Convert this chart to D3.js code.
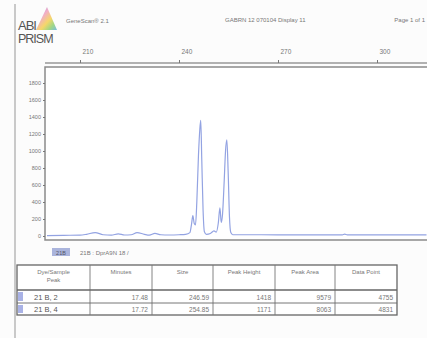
<!DOCTYPE html>
<html>
<head>
<meta charset="utf-8">
<script src="https://cdn.jsdelivr.net/npm/d3@7"></script>
<style>
  html, body { margin: 0; padding: 0; background: #fcfcfc; }
  svg { display: block; font-family: "Liberation Sans", Arial, sans-serif; }
</style>
</head>
<body>
<div id="chart"></div>
<script>
// trace: fragment size (bp) and fluorescence
const traceSize = [200, 205, 210, 212, 214.6, 217, 219.5, 221.6, 223.5, 225.5, 227.3, 229.5, 231, 232.7, 234.5, 237, 240, 242, 243.3,
  243.8, 244.2, 244.6, 245.0, 245.4, 245.9, 246.3, 246.59, 246.9, 247.3, 247.7, 248.3, 249.5, 250.6, 251.3, 251.9,
  252.4, 252.8, 253.2, 253.7, 254.1, 254.5, 254.9, 255.3, 255.7, 256.3, 260, 270, 280, 289.5, 290.2, 291, 300, 315];
const traceValue = [5, 8, 10, 20, 40, 15, 10, 25, 12, 15, 40, 20, 10, 30, 15, 12, 15, 20, 40,
  140, 240, 150, 130, 400, 950, 1250, 1360, 900, 300, 50, 20, 30, 60, 45, 150,
  330, 160, 260, 650, 1000, 1130, 750, 220, 40, 15, 15, 14, 14, 14, 22, 14, 14, 14];

const xTicks = [210, 240, 270, 300];
const yTicks = [0, 200, 400, 600, 800, 1000, 1200, 1400, 1600, 1800];

const tableHeaders = [["Dye/Sample", "Peak"], ["Minutes"], ["Size"], ["Peak Height"], ["Peak Area"], ["Data Point"]];
const peakLabels = ["21 B, 2", "21 B, 4"];
const peakMinutes = ["17.48", "17.72"];
const peakSizes = ["246.59", "254.85"];
const peakHeights = ["1418", "1171"];
const peakAreas = ["9579", "8063"];
const peakDataPoints = ["4755", "4831"];

const W = 427, H = 338;
const svg = d3.select("#chart").append("svg").attr("width", W).attr("height", H);

const gray = "#8a8a8a";
const textGray = "#777";

// page edge line
svg.append("line").attr("x1", 15).attr("x2", 15).attr("y1", 4).attr("y2", H)
  .attr("stroke", "#b8b8b8").attr("stroke-width", 1.5);

// --- header ---
const defs = svg.append("defs");
const grad = defs.append("linearGradient").attr("id", "rainbow")
  .attr("x1", "0").attr("y1", "0").attr("x2", "1").attr("y2", "1");
[["0%", "#7a6fd0"], ["35%", "#f0a0c0"], ["60%", "#f5d050"], ["80%", "#90d070"], ["100%", "#60b0e0"]]
  .forEach(([o, c]) => grad.append("stop").attr("offset", o).attr("stop-color", c));
svg.append("path").attr("d", "M47,7 L57,30 L36,30 Z").attr("fill", "url(#rainbow)").attr("opacity", 0.85);
svg.append("text").attr("x", 18).attr("y", 30).text("ABI")
  .attr("font-size", 13).attr("fill", "#555").attr("letter-spacing", -1);
svg.append("text").attr("x", 18).attr("y", 43).text("PRISM")
  .attr("font-size", 12.5).attr("fill", "#555").attr("letter-spacing", -1);
svg.append("text").attr("x", 66).attr("y", 23).text("GeneScan® 2.1")
  .attr("font-size", 6).attr("fill", textGray);
svg.append("text").attr("x", 225).attr("y", 22).text("GABRN 12 070104 Display 11")
  .attr("font-size", 6).attr("fill", textGray);
svg.append("text").attr("x", 425).attr("y", 22).attr("text-anchor", "end").text("Page 1 of 1")
  .attr("font-size", 6).attr("fill", textGray);

// --- plot ---
const x = d3.scaleLinear().domain([240, 270]).range([179, 278]);
const y = d3.scaleLinear().domain([0, 1800]).range([236, 83]);
const plotL = 45, plotR = 432, plotT = 67, plotB = 240;

svg.append("rect").attr("x", plotL).attr("y", plotT).attr("width", plotR - plotL).attr("height", plotB - plotT)
  .attr("fill", "#fff").attr("stroke", gray).attr("stroke-width", 1.5);

// top size axis
const topAxis = svg.append("g").attr("transform", "translate(0,63)")
  .call(d3.axisTop(x).tickValues(xTicks).tickSize(3).tickSizeOuter(0));
topAxis.select(".domain").attr("d", `M${plotL},0H${plotR}`).attr("stroke", "#999").attr("stroke-width", 1.5);
topAxis.selectAll(".tick line").attr("stroke", "#777");
topAxis.selectAll(".tick text").attr("font-size", 6.5).attr("fill", textGray)
  .attr("text-anchor", "start").attr("dx", 2).attr("dy", -3);

// left axis
const leftAxis = svg.append("g").attr("transform", `translate(${plotL},0)`)
  .call(d3.axisLeft(y).tickValues(yTicks).tickFormat(d3.format("d")).tickSize(2).tickPadding(2));
leftAxis.select(".domain").remove();
leftAxis.selectAll(".tick line").attr("stroke", "#777");
leftAxis.selectAll(".tick text").attr("font-size", 5.5).attr("fill", textGray);

// trace
const clip = defs.append("clipPath").attr("id", "plotclip");
clip.append("rect").attr("x", plotL + 1).attr("y", plotT + 1).attr("width", plotR - plotL - 2).attr("height", plotB - plotT - 2);
const line = d3.line().x(d => x(d[0])).y(d => y(d[1])).curve(d3.curveMonotoneX);
svg.append("path").datum(d3.zip(traceSize, traceValue))
  .attr("clip-path", "url(#plotclip)")
  .attr("d", line).attr("fill", "none").attr("stroke", "#93a3e2").attr("stroke-width", 1.2);

// sample label under plot
svg.append("rect").attr("x", 52).attr("y", 248).attr("width", 18).attr("height", 8).attr("fill", "#aab4dc");
svg.append("text").attr("x", 61).attr("y", 254.5).attr("text-anchor", "middle").text("21B")
  .attr("font-size", 5.5).attr("fill", "#556");
svg.append("text").attr("x", 80).attr("y", 255).text("21B : DprA9N 18 /")
  .attr("font-size", 6).attr("fill", textGray);

// --- peak table ---
const colX = [17, 90, 152, 213, 275, 335, 397];
const rowY = [265, 290, 303, 315];
const rows = d3.zip(peakLabels, peakMinutes, peakSizes, peakHeights, peakAreas, peakDataPoints);
const tbl = svg.append("g");
tbl.append("rect").attr("x", colX[0]).attr("y", rowY[0]).attr("width", colX[6] - colX[0])
  .attr("height", rowY[3] - rowY[0]).attr("fill", "#fff").attr("stroke", "#666").attr("stroke-width", 1.3);
colX.slice(1, -1).forEach(cx => tbl.append("line").attr("x1", cx).attr("x2", cx)
  .attr("y1", rowY[0]).attr("y2", rowY[3]).attr("stroke", "#777").attr("stroke-width", 0.9));
rowY.slice(1, -1).forEach((ry, i) => tbl.append("line").attr("x1", colX[0]).attr("x2", colX[6])
  .attr("y1", ry).attr("y2", ry).attr("stroke", "#666").attr("stroke-width", i === 0 ? 1.4 : 0.9));

tableHeaders.forEach((h, i) => {
  const cx = (colX[i] + colX[i + 1]) / 2;
  h.forEach((t, j) => tbl.append("text").attr("x", cx).attr("y", rowY[0] + 9 + j * 8)
    .attr("text-anchor", "middle").text(t).attr("font-size", 6).attr("fill", textGray));
});

rows.forEach((r, ri) => {
  const yb = rowY[ri + 1], yt = rowY[ri + 2];
  tbl.append("rect").attr("x", colX[0] + 1).attr("y", yb + 2).attr("width", 5).attr("height", yt - yb - 4)
    .attr("fill", "#a9b2e6");
  r.forEach((v, ci) => {
    const tx = ci === 0 ? colX[0] + 17 : colX[ci + 1] - 4;
    tbl.append("text").attr("x", tx).attr("y", yt - 3)
      .attr("text-anchor", ci === 0 ? "start" : "end").text(v)
      .attr("font-size", ci === 0 ? 7.5 : 6.5).attr("fill", ci === 0 ? "#555" : textGray);
  });
});
</script>
</body>
</html>
